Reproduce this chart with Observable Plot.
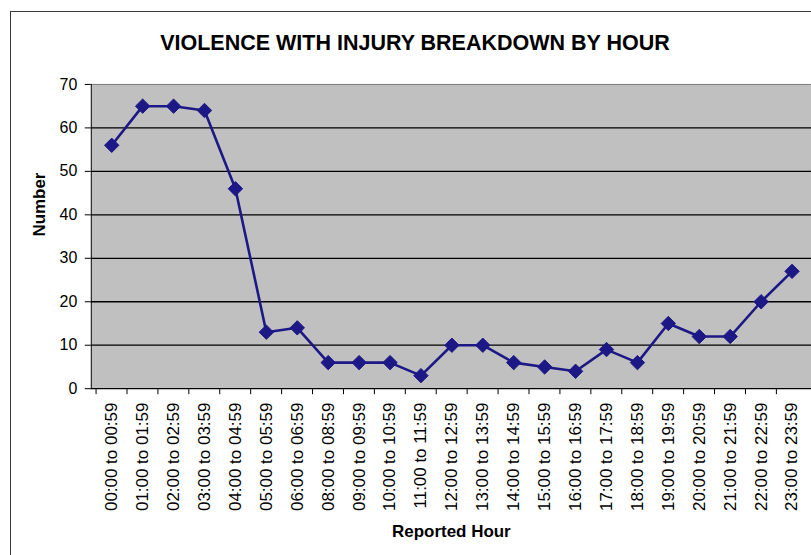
<!DOCTYPE html>
<html>
<head>
<meta charset="utf-8">
<script src="https://cdn.jsdelivr.net/npm/d3@7"></script>
<script src="https://cdn.jsdelivr.net/npm/@observablehq/plot@0.6"></script>
<style>
  html, body { margin: 0; padding: 0; background: #fff; }
  #wrap { position: relative; width: 811px; height: 555px; overflow: hidden; background: #fff;
          font-family: "Liberation Sans", Arial, sans-serif; }
  #border { position: absolute; left: 10px; top: 11px; width: 900px; height: 600px;
            border: 1.5px solid #3a3a3a; box-sizing: border-box; }
  #title { position: absolute; left: 0; width: 830px; top: 33px; text-align: center;
           font-size: 21.5px; line-height: 21.5px; font-weight: bold; color: #000; }
  #chart { position: absolute; left: 0; top: 60px; }
</style>
</head>
<body>
<div id="wrap">
  <div id="border"></div>
  <div id="title">VIOLENCE WITH INJURY BREAKDOWN BY HOUR</div>
  <div id="chart"></div>
</div>
<script>
const hours = ["00:00 to 00:59","01:00 to 01:59","02:00 to 02:59","03:00 to 03:59","04:00 to 04:59",
  "05:00 to 05:59","06:00 to 06:59","08:00 to 08:59","09:00 to 09:59","10:00 to 10:59",
  "11:00 to 11:59","12:00 to 12:59","13:00 to 13:59","14:00 to 14:59","15:00 to 15:59",
  "16:00 to 16:59","17:00 to 17:59","18:00 to 18:59","19:00 to 19:59","20:00 to 20:59",
  "21:00 to 21:59","22:00 to 22:59","23:00 to 23:59"];
const counts = [56, 65, 65, 64, 46, 13, 14, 6, 6, 6, 3, 10, 10, 6, 5, 4, 9, 6, 15, 12, 12, 20, 27];
const yTicks = [0, 10, 20, 30, 40, 50, 60, 70];
const gridValues = [10, 20, 30, 40, 50, 60];

const data = hours.map((h, i) => ({hour: h, count: counts[i]}));

const W = 813, ML = 91, MR = 0;
const bw = (W - ML - MR) / hours.length;
const navy = "#1c1885";

const chart = Plot.plot({
  width: W,
  height: 495,
  marginTop: 24,
  marginBottom: 166,
  marginLeft: ML,
  marginRight: MR,
  style: {fontFamily: "'Liberation Sans', Arial, sans-serif", color: "#000", background: "transparent", overflow: "visible"},
  x: {type: "band", domain: hours, padding: 0},
  y: {domain: [0, 70]},
  marks: [
    Plot.frame({fill: "#c0c0c0", stroke: null}),
    Plot.ruleY(gridValues, {stroke: "#000", strokeWidth: 1.3}),
    Plot.ruleY([70], {stroke: "#7a7a7a", strokeWidth: 1}),
    Plot.frame({anchor: "left", stroke: "#000", strokeWidth: 1}),
    Plot.frame({anchor: "bottom", stroke: "#000", strokeWidth: 1.3}),
    Plot.axisY({ticks: yTicks, tickSize: 6, tickPadding: 8, fontSize: 16, label: null, stroke: "#000"}),
    Plot.axisX({text: null, tickSize: 6, dx: -bw / 2, label: null, stroke: "#000"}),
    Plot.axisX({tickSize: 0, tickPadding: 14, tickRotate: -90, fontSize: 17, label: null}),
    Plot.line(data, {x: "hour", y: "count", stroke: navy, strokeWidth: 2.6}),
    Plot.dot(data, {x: "hour", y: "count", symbol: "diamond2", r: 6.5, fill: navy, stroke: navy, strokeWidth: 1}),
    Plot.text(["Number"], {text: d => d, frameAnchor: "left", dx: -52, rotate: -90, fontSize: 17, fontWeight: "bold", fill: "#000"}),
    Plot.text(["Reported Hour"], {text: d => d, frameAnchor: "bottom", dy: 149, fontSize: 17, fontWeight: "bold", fill: "#000"})
  ]
});
document.getElementById("chart").appendChild(chart);
</script>
</body>
</html>
